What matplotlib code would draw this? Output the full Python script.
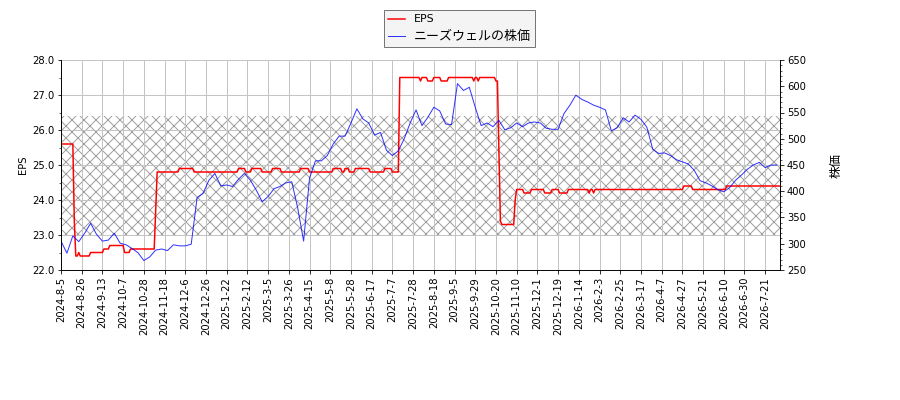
"""EPS and share price of ニーズウェル, drawn on twin axes."""

import matplotlib
matplotlib.use("Agg")
import matplotlib.pyplot as plt
import numpy as np
from matplotlib.ticker import AutoMinorLocator, FormatStrFormatter, MultipleLocator

plt.rcParams['font.family'] = ['DejaVu Sans', 'Noto Sans CJK JP']

# x axis: trading-day index, a tick label every 14 trading days
tick_step = 14
tick_labels = [
    '2024-8-5', '2024-8-26', '2024-9-13', '2024-10-7', '2024-10-28',
    '2024-11-18', '2024-12-6', '2024-12-26', '2025-1-22', '2025-2-12',
    '2025-3-5', '2025-3-26', '2025-4-15', '2025-5-8', '2025-5-28',
    '2025-6-17', '2025-7-7', '2025-7-28', '2025-8-18', '2025-9-5',
    '2025-9-29', '2025-10-20', '2025-11-10', '2025-12-1', '2025-12-19',
    '2026-1-14', '2026-2-3', '2026-2-25', '2026-3-17', '2026-4-7',
    '2026-4-27', '2026-5-21', '2026-6-10', '2026-6-30', '2026-7-21',
]
n_days = 487

# EPS: day on which each value starts, and the value
eps_start = [
    0, 9, 10, 12, 13, 20, 29, 33, 43, 47, 64, 65, 80, 90, 120, 125, 129,
    136, 143, 149, 162, 168, 184, 190, 192, 195, 199, 209, 219, 224, 229,
    243, 244, 248, 252, 257, 262, 279, 280, 282, 283, 294, 296, 297, 298,
    307, 308, 313, 318, 327, 332, 337, 343, 357, 358, 360, 361, 421, 427,
    450,
]
eps_value = [
    25.6, 23.4, 22.4, 22.5, 22.4, 22.5, 22.6, 22.7, 22.5, 22.6, 23.7, 24.8,
    24.9, 24.8, 24.9, 24.8, 24.9, 24.8, 24.9, 24.8, 24.9, 24.8, 24.9, 24.8,
    24.9, 24.8, 24.9, 24.8, 24.9, 24.8, 27.5, 27.4, 27.5, 27.4, 27.5, 27.4,
    27.5, 27.4, 27.5, 27.4, 27.5, 27.4, 25.4, 23.4, 23.3, 24.0, 24.3, 24.2,
    24.3, 24.2, 24.3, 24.2, 24.3, 24.2, 24.3, 24.2, 24.3, 24.4, 24.3, 24.4,
]

# share price, one reading every 4 trading days
price_step = 4
price = [
    305, 282, 315, 304, 320, 339, 318, 305, 307, 320, 301, 298, 291, 283,
    268, 275, 288, 290, 287, 298, 296, 296, 299, 388, 396, 421, 434, 410,
    412, 409, 423, 434, 421, 402, 380, 390, 405, 409, 416, 418, 368, 305,
    425, 458, 458, 468, 490, 505, 505, 530, 557, 538, 530, 507, 512, 478,
    468, 477, 500, 530, 555, 525, 541, 560, 553, 528, 527, 605, 592, 598,
    560, 525, 530, 523, 535, 517, 521, 530, 523, 530, 532, 530, 520, 518,
    518, 548, 564, 583, 575, 570, 564, 560, 555, 515, 521, 540, 532, 545,
    537, 522, 480, 472, 473, 468, 460, 456, 452, 440, 420, 416, 410, 403,
    399, 407, 421, 431, 442, 450, 455, 445, 450, 450,
]

# shaded band on the EPS axis
band_low, band_high = 23.0, 26.4

eps_days = np.repeat(eps_value, np.diff(eps_start + [n_days]))
price_days = np.arange(len(price)) * price_step

fig = plt.figure(figsize=(900 / 72, 400 / 72), dpi=72)
fig.subplots_adjust(left=61 / 900, right=780 / 900, top=0.85, bottom=0.325)
ax1 = fig.add_subplot(111)
ax2 = ax1.twinx()

ax1.axhspan(band_low, band_high, facecolor='none', edgecolor='#a0a0a0',
            hatch='xx', linewidth=0)
line_eps, = ax1.plot(np.arange(n_days), eps_days, color='red', lw=1.5,
                     label='EPS')
line_price, = ax2.plot(price_days, price, color='blue', lw=1.0, alpha=0.8,
                       label='ニーズウェルの株価')

ax1.set_xlim(0, n_days - 1)
ax1.set_ylim(22, 28)
ax2.set_ylim(250, 650)

ax1.set_xticks(np.arange(len(tick_labels)) * tick_step)
ax1.set_xticklabels(tick_labels, rotation=90)
ax1.yaxis.set_major_locator(MultipleLocator(1))
ax1.yaxis.set_major_formatter(FormatStrFormatter('%.1f'))
ax1.yaxis.set_minor_locator(AutoMinorLocator(2))
ax2.yaxis.set_major_locator(MultipleLocator(50))
ax2.yaxis.set_minor_locator(AutoMinorLocator(5))

ax1.grid(True, color='#c4c4c4', lw=1.0)
ax1.set_ylabel('EPS')
ax2.set_ylabel('株価', fontsize=12.5, labelpad=24)

for ax in (ax1, ax2):
    ax.spines['top'].set_visible(False)

leg = fig.legend([line_eps, line_price], ['EPS', 'ニーズウェルの株価'],
                 loc='upper left', bbox_to_anchor=(384 / 900, 1 - 10 / 400),
                 borderaxespad=0, fancybox=False, edgecolor='#777777',
                 facecolor='#f4f4f4', framealpha=1, fontsize=11,
                 handlelength=1.5)
leg.get_texts()[1].set_fontsize(13)

fig.savefig('out.png', dpi=72)
plt.close(fig)
